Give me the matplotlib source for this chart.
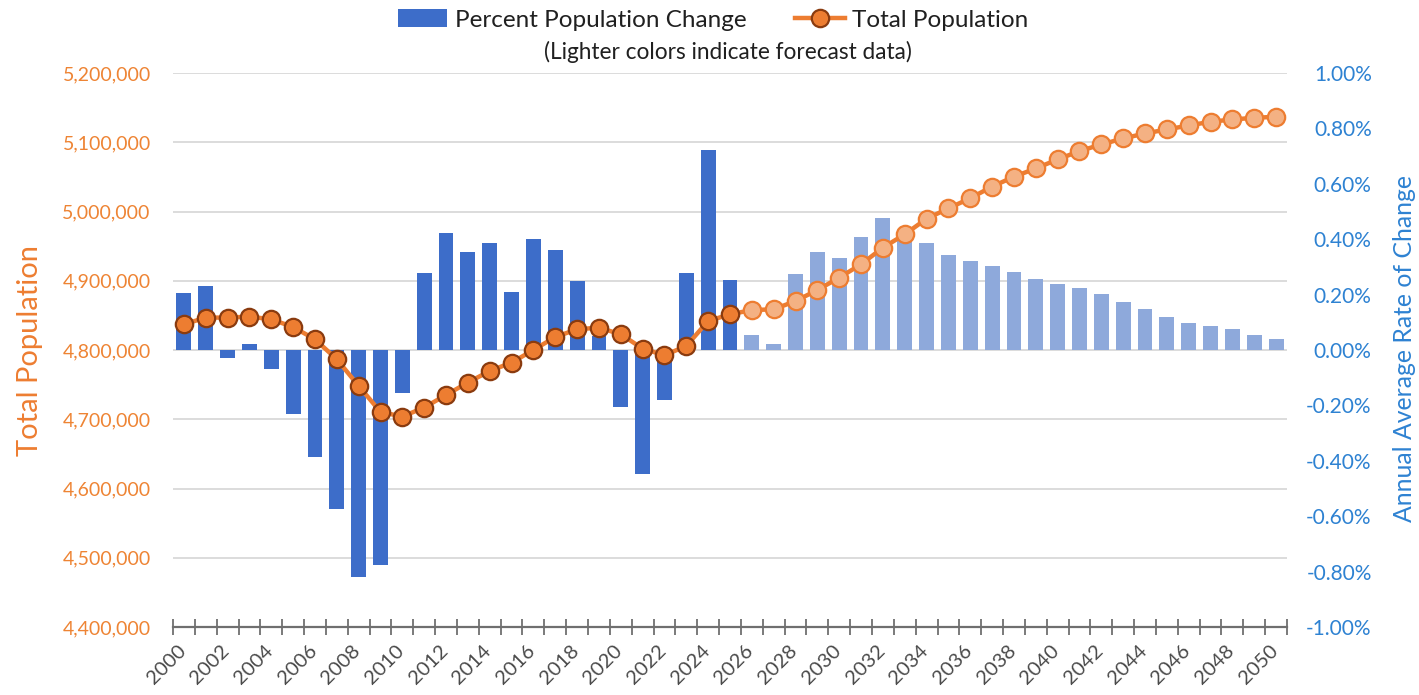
import matplotlib
matplotlib.use("Agg")
import matplotlib.pyplot as plt
import matplotlib.transforms as mtransforms
from matplotlib.patches import Patch
from matplotlib.lines import Line2D
from matplotlib.ticker import FuncFormatter, FixedLocator

plt.rcParams['font.family'] = ['Lato', 'DejaVu Sans']

years = list(range(2000, 2051))
forecast_start = 2026

pct_change = [0.207, 0.231, -0.028, 0.020, -0.070, -0.232, -0.386, -0.573, -0.820, -0.777,
              -0.157, 0.277, 0.424, 0.355, 0.388, 0.211, 0.402, 0.360, 0.249, 0.050,
              -0.204, -0.446, -0.182, 0.277, 0.722, 0.253,
              0.053, 0.020, 0.273, 0.352, 0.331, 0.407, 0.477, 0.430, 0.385, 0.342,
              0.322, 0.303, 0.281, 0.258, 0.240, 0.225, 0.201, 0.175, 0.147, 0.119,
              0.099, 0.087, 0.077, 0.053, 0.039]

population = [4837100, 4846800, 4846800, 4848200, 4844300, 4833200, 4815400, 4786600, 4748100, 4710500,
              4703900, 4716900, 4735100, 4753000, 4769700, 4781800, 4800000, 4818800, 4829900, 4832300,
              4822700, 4802000, 4792400, 4805800, 4841900, 4851500,
              4857700, 4858700, 4870700, 4886600, 4904500, 4923700, 4947800, 4967000, 4989600, 5004500,
              5019200, 5036000, 5050200, 5062200, 5075200, 5087200, 5096800, 5105500, 5112700, 5118500,
              5124200, 5129600, 5132900, 5135300, 5136800]

pop_ticks = [4400000, 4500000, 4600000, 4700000, 4800000, 4900000, 5000000, 5100000, 5200000]
pct_ticks = [-1.0, -0.8, -0.6, -0.4, -0.2, 0.0, 0.2, 0.4, 0.6, 0.8, 1.0]
xlabel_years = list(range(2000, 2051, 2))

C_BAR = '#3D6DC9'
C_BAR_F = '#8EA9DB'
C_LINE = '#ED7D31'
C_EDGE = '#8A3B0F'
C_MFILL_F = '#F4B183'
C_LEFT = '#EE8434'
C_RIGHT = '#2E82D2'
C_GRID = '#D9D9D9'
C_AXIS = '#6F6F6F'

fig = plt.figure(figsize=(14.19, 6.95), dpi=100)
ax_line = fig.add_axes([173/1419, 1-627/695, (1287-173)/1419, (627-73)/695])
ax_bar = ax_line.twinx()
ax_line.set_zorder(ax_bar.get_zorder() + 1)
ax_line.patch.set_visible(False)

idx = list(range(len(years)))
hist = [i for i, y in enumerate(years) if y < forecast_start]
fc = [i for i, y in enumerate(years) if y >= forecast_start]

# gridlines drawn in bar axes (behind bars) using the population scale
blend = mtransforms.blended_transform_factory(ax_bar.transAxes, ax_line.transData)
for t in pop_ticks[1:]:
    ax_bar.plot([0, 1], [t, t], transform=blend, color=C_GRID, lw=1.3, zorder=0)

ax_bar.bar([idx[i] for i in hist], [pct_change[i] for i in hist], width=0.68, color=C_BAR, zorder=2)
ax_bar.bar([idx[i] for i in fc], [pct_change[i] for i in fc], width=0.68, color=C_BAR_F, zorder=2)

ax_line.plot(idx, population, color=C_LINE, lw=3.2, zorder=3)
ax_line.plot([idx[i] for i in hist], [population[i] for i in hist], ls='none', marker='o',
             ms=12.5, mfc=C_LINE, mec=C_EDGE, mew=1.6, zorder=4)
ax_line.plot([idx[i] for i in fc], [population[i] for i in fc], ls='none', marker='o',
             ms=12.5, mfc=C_MFILL_F, mec=C_LINE, mew=1.6, zorder=4)

ax_line.set_xlim(-0.5, len(years) - 0.5)
ax_line.set_ylim(pop_ticks[0], pop_ticks[-1])
ax_bar.set_ylim(pct_ticks[0], pct_ticks[-1])

ax_line.yaxis.set_major_locator(FixedLocator(pop_ticks))
ax_line.yaxis.set_major_formatter(FuncFormatter(lambda v, p: f"{int(round(v)):,}"))
ax_bar.yaxis.set_major_locator(FixedLocator(pct_ticks))
ax_bar.yaxis.set_major_formatter(FuncFormatter(lambda v, p: f"{v:.2f}%"))

ax_line.tick_params(axis='y', length=0, pad=16, labelsize=14, labelcolor=C_LEFT)
ax_bar.tick_params(axis='y', length=0, pad=61, labelsize=15, labelcolor=C_RIGHT)
for lab in ax_bar.get_yticklabels():
    lab.set_horizontalalignment('right')

# x axis
ax_line.set_xticks([years.index(y) for y in xlabel_years])
ax_line.set_xticklabels([str(y) for y in xlabel_years], rotation=45, ha='right', va='top')
ax_line.xaxis.set_minor_locator(FixedLocator([i - 0.5 for i in range(len(years) + 1)]))
ax_line.tick_params(axis='x', which='major', length=0, pad=11, labelsize=14.5, labelcolor='#4A4A4A')
ax_line.tick_params(axis='x', which='minor', direction='inout', length=11, width=1.3, color=C_AXIS)
ax_bar.tick_params(axis='x', which='both', length=0)
shift = mtransforms.ScaledTranslation(5/100, 0, fig.dpi_scale_trans)
for lab in ax_line.get_xticklabels():
    lab.set_transform(lab.get_transform() + shift)

for a in (ax_line, ax_bar):
    for s in ('top', 'left', 'right'):
        a.spines[s].set_visible(False)
ax_bar.spines['bottom'].set_visible(False)
ax_line.spines['bottom'].set_color(C_AXIS)
ax_line.spines['bottom'].set_linewidth(1.6)

fig.text(30/1419, 1 - 350/695, 'Total Population', rotation=90, ha='center', va='center',
         fontsize=21, color=C_LINE)
fig.text(1404/1419, 1 - 349/695, 'Annual Average Rate of Change', rotation=90, ha='center',
         va='center', fontsize=17.8, color=C_RIGHT)

handles = [Patch(facecolor=C_BAR, edgecolor='none'),
           Line2D([0], [0], color=C_LINE, lw=3.2, marker='o', ms=12.5, mfc=C_LINE, mec=C_EDGE, mew=1.6)]
fig.legend(handles, ['Percent Population Change', 'Total Population'], loc='center',
           bbox_to_anchor=(713/1419, 1 - 20/695), ncol=2, frameon=False, fontsize=17.5,
           handlelength=2.05, columnspacing=2.0, handletextpad=0.3, labelcolor='#202020')
fig.text(728/1419, 1 - 52/695, '(Lighter colors indicate forecast data)', ha='center', va='center',
         fontsize=16.3, color='#202020')

fig.savefig('out.png', dpi=100)
